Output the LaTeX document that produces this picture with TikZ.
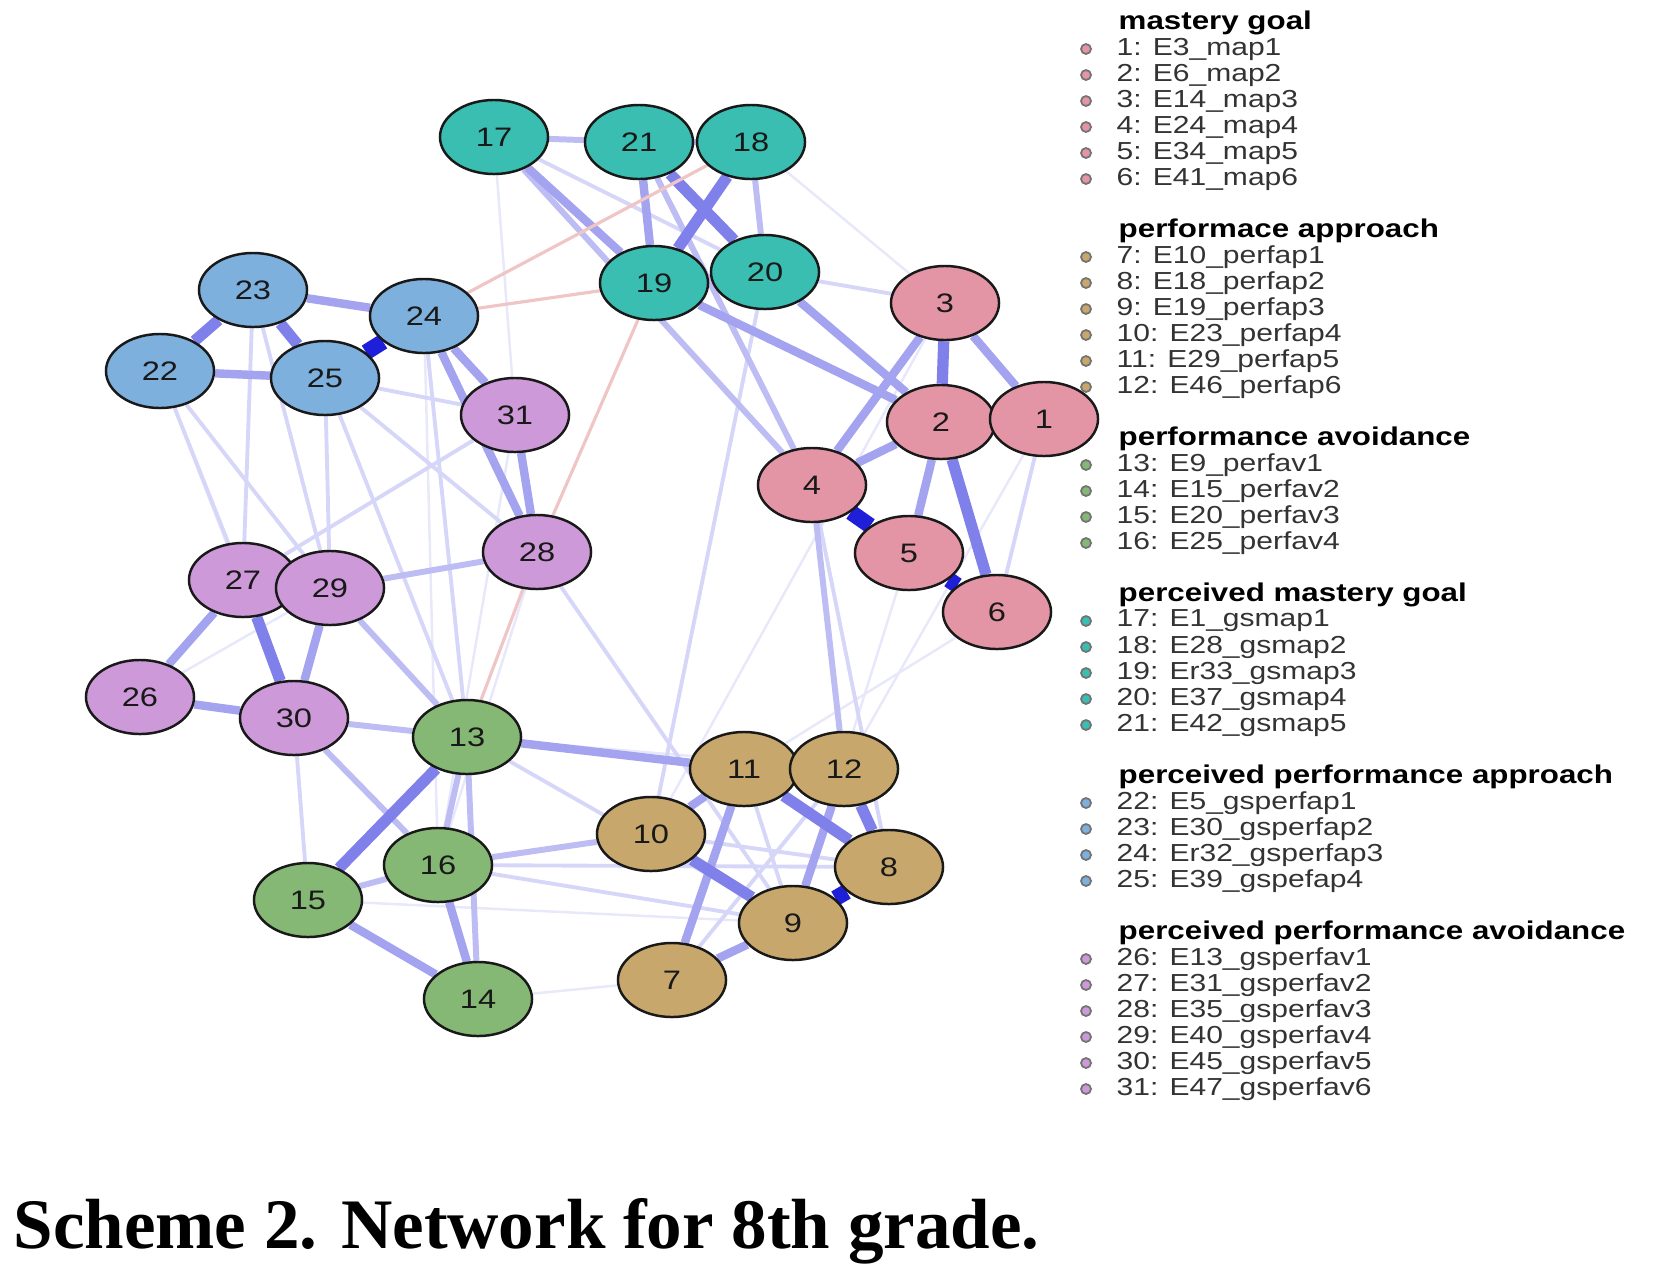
\documentclass[tikz,border=0pt]{standalone}
\usepackage{fontspec}
\setmainfont{Liberation Serif}
\newfontfamily\sansw[FakeStretch=1.22]{Liberation Sans}
\usepackage{xcolor}
\usepackage{tikz}
\usetikzlibrary{shapes.geometric, backgrounds}

\definecolor{cmast}{HTML}{E495A5}
\definecolor{cperf}{HTML}{C7A76C}
\definecolor{cavoid}{HTML}{86B875}
\definecolor{cpmast}{HTML}{39BEB1}
\definecolor{cpperf}{HTML}{7DB0DD}
\definecolor{cpavoid}{HTML}{CD99D8}
\definecolor{ecol}{RGB}{0,0,213}
\definecolor{ncol}{RGB}{215,110,110}

\tikzset{
	item/.style={ellipse, draw=black!90, line width=0.7pt, minimum width=1.08cm, minimum height=0.74cm, inner sep=0pt, text=black!90, font=\sansw\fontsize{7.6}{9}\selectfont},
	e0/.style={draw=ecol!9, line width=0.7pt},
	e1/.style={draw=ecol!16, line width=1.1pt},
	e2/.style={draw=ecol!26, line width=1.7pt},
	e3/.style={draw=ecol!36, line width=2.4pt},
	e4/.style={draw=ecol!50, line width=3.2pt},
	e5/.style={draw=ecol!88, line width=4.5pt},
	neg/.style={draw=ncol!40, line width=0.9pt},
	legdot/.style={circle, draw=black!55, line width=0.5pt, minimum size=0.1cm, inner sep=0pt},
	legtxt/.style={anchor=west, inner sep=0pt, text=black!80, font=\sansw\fontsize{7}{8}\selectfont},
	leghead/.style={anchor=west, inner sep=0pt, text=black, font=\sansw\bfseries\fontsize{7.3}{8}\selectfont}
}

\begin{document}
\begin{tikzpicture}[x=0.01cm, y=-0.01cm]
	\useasboundingbox (0,0) rectangle (1654,1275);

	% Items: perceived mastery goal
	\node[item, fill=cpmast] (n17) at (494,137) {17};
	\node[item, fill=cpmast] (n21) at (639,142) {21};
	\node[item, fill=cpmast] (n18) at (751,142) {18};
	\node[item, fill=cpmast] (n19) at (654,283) {19};
	\node[item, fill=cpmast] (n20) at (765,272) {20};

	% Items: perceived performance approach
	\node[item, fill=cpperf] (n23) at (253,290) {23};
	\node[item, fill=cpperf] (n24) at (424,316) {24};
	\node[item, fill=cpperf] (n22) at (160,371) {22};
	\node[item, fill=cpperf] (n25) at (325,378) {25};

	% Items: perceived performance avoidance
	\node[item, fill=cpavoid] (n31) at (515,415) {31};
	\node[item, fill=cpavoid] (n28) at (537,552) {28};
	\node[item, fill=cpavoid] (n27) at (243,580) {27};
	\node[item, fill=cpavoid] (n29) at (330,588) {29};
	\node[item, fill=cpavoid] (n26) at (140,697) {26};
	\node[item, fill=cpavoid] (n30) at (294,718) {30};

	% Items: performance avoidance
	\node[item, fill=cavoid] (n13) at (467,737) {13};
	\node[item, fill=cavoid] (n16) at (438,865) {16};
	\node[item, fill=cavoid] (n15) at (308,900) {15};
	\node[item, fill=cavoid] (n14) at (478,999) {14};

	% Items: mastery goal
	\node[item, fill=cmast] (n3) at (945,303) {3};
	\node[item, fill=cmast] (n2) at (941,422) {2};
	\node[item, fill=cmast] (n1) at (1044,419) {1};
	\node[item, fill=cmast] (n4) at (812,485) {4};
	\node[item, fill=cmast] (n5) at (909,553) {5};
	\node[item, fill=cmast] (n6) at (997,612) {6};

	% Items: performance approach
	\node[item, fill=cperf] (n11) at (744,769) {11};
	\node[item, fill=cperf] (n12) at (844,769) {12};
	\node[item, fill=cperf] (n10) at (651,834) {10};
	\node[item, fill=cperf] (n8) at (889,867) {8};
	\node[item, fill=cperf] (n9) at (793,923) {9};
	\node[item, fill=cperf] (n7) at (672,980) {7};

	\begin{scope}[on background layer]
		% Faint links
		\draw[e0] (n18) -- (n3);
		\draw[e0] (n6) -- (n11);
		\draw[e0] (n14) -- (n7);
		\draw[e0] (n24) -- (n16);
		\draw[e0] (n28) -- (n16);
		\draw[e0] (n22) -- (n30);
		\draw[e0] (n26) -- (n29);
		\draw[e0] (n1) -- (n12);
		\draw[e0] (n5) -- (n9);
		\draw[e0] (n3) -- (n10);
		\draw[e0] (n13) -- (n12);
		\draw[e0] (n15) -- (n9);
		\draw[e0] (n26) -- (n13);
		\draw[e0] (n31) -- (n16);
		\draw[e0] (n17) -- (n31);
		% Light links
		\draw[e1] (n17) -- (n20);
		\draw[e1] (n20) -- (n3);
		\draw[e1] (n1) -- (n6);
		\draw[e1] (n4) -- (n8);
		\draw[e1] (n20) -- (n10);
		\draw[e1] (n25) -- (n31);
		\draw[e1] (n22) -- (n27);
		\draw[e1] (n22) -- (n29);
		\draw[e1] (n23) -- (n27);
		\draw[e1] (n23) -- (n29);
		\draw[e1] (n25) -- (n29);
		\draw[e1] (n25) -- (n13);
		\draw[e1] (n25) -- (n28);
		\draw[e1] (n24) -- (n13);
		\draw[e1] (n31) -- (n27);
		\draw[e1] (n30) -- (n15);
		\draw[e1] (n28) -- (n9);
		\draw[e1] (n16) -- (n9);
		\draw[e1] (n16) -- (n8);
		\draw[e1] (n13) -- (n9);
		\draw[e1] (n11) -- (n9);
		\draw[e1] (n10) -- (n8);
		\draw[e1] (n7) -- (n12);
		% Medium links
		\draw[e2] (n17) -- (n21);
		\draw[e2] (n18) -- (n20);
		\draw[e2] (n21) -- (n18);
		\draw[e2] (n19) -- (n20);
		\draw[e2] (n17) -- (n4);
		\draw[e2] (n21) -- (n4);
		\draw[e2] (n1) -- (n2);
		\draw[e2] (n4) -- (n12);
		\draw[e2] (n27) -- (n29);
		\draw[e2] (n29) -- (n28);
		\draw[e2] (n29) -- (n13);
		\draw[e2] (n30) -- (n13);
		\draw[e2] (n30) -- (n16);
		\draw[e2] (n13) -- (n16);
		\draw[e2] (n13) -- (n14);
		\draw[e2] (n16) -- (n15);
		\draw[e2] (n16) -- (n10);
		\draw[e2] (n11) -- (n12);
		% Strong links
		\draw[e3] (n17) -- (n19);
		\draw[e3] (n21) -- (n19);
		\draw[e3] (n19) -- (n2);
		\draw[e3] (n20) -- (n2);
		\draw[e3] (n3) -- (n1);
		\draw[e3] (n3) -- (n4);
		\draw[e3] (n2) -- (n4);
		\draw[e3] (n2) -- (n5);
		\draw[e3] (n23) -- (n24);
		\draw[e3] (n22) -- (n25);
		\draw[e3] (n24) -- (n31);
		\draw[e3] (n24) -- (n28);
		\draw[e3] (n31) -- (n28);
		\draw[e3] (n29) -- (n30);
		\draw[e3] (n27) -- (n26);
		\draw[e3] (n26) -- (n30);
		\draw[e3] (n16) -- (n14);
		\draw[e3] (n15) -- (n14);
		\draw[e3] (n13) -- (n11);
		\draw[e3] (n11) -- (n10);
		\draw[e3] (n11) -- (n7);
		\draw[e3] (n12) -- (n9);
		\draw[e3] (n7) -- (n9);
		% Very strong links
		\draw[e4] (n21) -- (n20);
		\draw[e4] (n18) -- (n19);
		\draw[e4] (n3) -- (n2);
		\draw[e4] (n2) -- (n6);
		\draw[e4] (n22) -- (n23);
		\draw[e4] (n23) -- (n25);
		\draw[e4] (n13) -- (n15);
		\draw[e4] (n11) -- (n8);
		\draw[e4] (n12) -- (n8);
		\draw[e4] (n10) -- (n9);
		\draw[e5] (n4) -- (n5);
		\draw[e5] (n5) -- (n6);
		\draw[e5] (n24) -- (n25);
		\draw[e4] (n27) -- (n30);
		\draw[e5] (n9) -- (n8);
		% Negative links
		\draw[neg] (n24) -- (n18);
		\draw[neg] (n24) -- (n19);
		\draw[neg] (n19) -- (n28);
		\draw[neg] (n28) -- (n13);
	\end{scope}

	% Legend
	\node[leghead] (h1) at (1118,23) {mastery goal};
	\node[legdot, fill=cmast] (d1) at (1086,49) {};
	\node[legtxt] (l1) at (1116,49) {1: E3\_map1};
	\node[legdot, fill=cmast] (d2) at (1086,75) {};
	\node[legtxt] (l2) at (1116,75) {2: E6\_map2};
	\node[legdot, fill=cmast] (d3) at (1086,101) {};
	\node[legtxt] (l3) at (1116,101) {3: E14\_map3};
	\node[legdot, fill=cmast] (d4) at (1086,127) {};
	\node[legtxt] (l4) at (1116,127) {4: E24\_map4};
	\node[legdot, fill=cmast] (d5) at (1086,153) {};
	\node[legtxt] (l5) at (1116,153) {5: E34\_map5};
	\node[legdot, fill=cmast] (d6) at (1086,179) {};
	\node[legtxt] (l6) at (1116,179) {6: E41\_map6};

	\node[leghead] (h2) at (1118,231) {performace approach};
	\node[legdot, fill=cperf] (d7) at (1086,257) {};
	\node[legtxt] (l7) at (1116,257) {7: E10\_perfap1};
	\node[legdot, fill=cperf] (d8) at (1086,283) {};
	\node[legtxt] (l8) at (1116,283) {8: E18\_perfap2};
	\node[legdot, fill=cperf] (d9) at (1086,309) {};
	\node[legtxt] (l9) at (1116,309) {9: E19\_perfap3};
	\node[legdot, fill=cperf] (d10) at (1086,335) {};
	\node[legtxt] (l10) at (1116,335) {10: E23\_perfap4};
	\node[legdot, fill=cperf] (d11) at (1086,361) {};
	\node[legtxt] (l11) at (1116,361) {11: E29\_perfap5};
	\node[legdot, fill=cperf] (d12) at (1086,387) {};
	\node[legtxt] (l12) at (1116,387) {12: E46\_perfap6};

	\node[leghead] (h3) at (1118,439) {performance avoidance};
	\node[legdot, fill=cavoid] (d13) at (1086,465) {};
	\node[legtxt] (l13) at (1116,465) {13: E9\_perfav1};
	\node[legdot, fill=cavoid] (d14) at (1086,491) {};
	\node[legtxt] (l14) at (1116,491) {14: E15\_perfav2};
	\node[legdot, fill=cavoid] (d15) at (1086,517) {};
	\node[legtxt] (l15) at (1116,517) {15: E20\_perfav3};
	\node[legdot, fill=cavoid] (d16) at (1086,543) {};
	\node[legtxt] (l16) at (1116,543) {16: E25\_perfav4};

	\node[leghead] (h4) at (1118,595) {perceived mastery goal};
	\node[legdot, fill=cpmast] (d17) at (1086,621) {};
	\node[legtxt] (l17) at (1116,621) {17: E1\_gsmap1};
	\node[legdot, fill=cpmast] (d18) at (1086,647) {};
	\node[legtxt] (l18) at (1116,647) {18: E28\_gsmap2};
	\node[legdot, fill=cpmast] (d19) at (1086,673) {};
	\node[legtxt] (l19) at (1116,673) {19: Er33\_gsmap3};
	\node[legdot, fill=cpmast] (d20) at (1086,699) {};
	\node[legtxt] (l20) at (1116,699) {20: E37\_gsmap4};
	\node[legdot, fill=cpmast] (d21) at (1086,725) {};
	\node[legtxt] (l21) at (1116,725) {21: E42\_gsmap5};

	\node[leghead] (h5) at (1118,777) {perceived performance approach};
	\node[legdot, fill=cpperf] (d22) at (1086,803) {};
	\node[legtxt] (l22) at (1116,803) {22: E5\_gsperfap1};
	\node[legdot, fill=cpperf] (d23) at (1086,829) {};
	\node[legtxt] (l23) at (1116,829) {23: E30\_gsperfap2};
	\node[legdot, fill=cpperf] (d24) at (1086,855) {};
	\node[legtxt] (l24) at (1116,855) {24: Er32\_gsperfap3};
	\node[legdot, fill=cpperf] (d25) at (1086,881) {};
	\node[legtxt] (l25) at (1116,881) {25: E39\_gspefap4};

	\node[leghead] (h6) at (1118,933) {perceived performance avoidance};
	\node[legdot, fill=cpavoid] (d26) at (1086,959) {};
	\node[legtxt] (l26) at (1116,959) {26: E13\_gsperfav1};
	\node[legdot, fill=cpavoid] (d27) at (1086,985) {};
	\node[legtxt] (l27) at (1116,985) {27: E31\_gsperfav2};
	\node[legdot, fill=cpavoid] (d28) at (1086,1011) {};
	\node[legtxt] (l28) at (1116,1011) {28: E35\_gsperfav3};
	\node[legdot, fill=cpavoid] (d29) at (1086,1037) {};
	\node[legtxt] (l29) at (1116,1037) {29: E40\_gsperfav4};
	\node[legdot, fill=cpavoid] (d30) at (1086,1063) {};
	\node[legtxt] (l30) at (1116,1063) {30: E45\_gsperfav5};
	\node[legdot, fill=cpavoid] (d31) at (1086,1089) {};
	\node[legtxt] (l31) at (1116,1089) {31: E47\_gsperfav6};

	% Caption
	\node[anchor=base west, inner sep=0pt, font=\bfseries\fontsize{20.2}{24}\selectfont] (cap) at (13,1248) {Scheme 2. Network for 8th grade.};
\end{tikzpicture}
\end{document}
